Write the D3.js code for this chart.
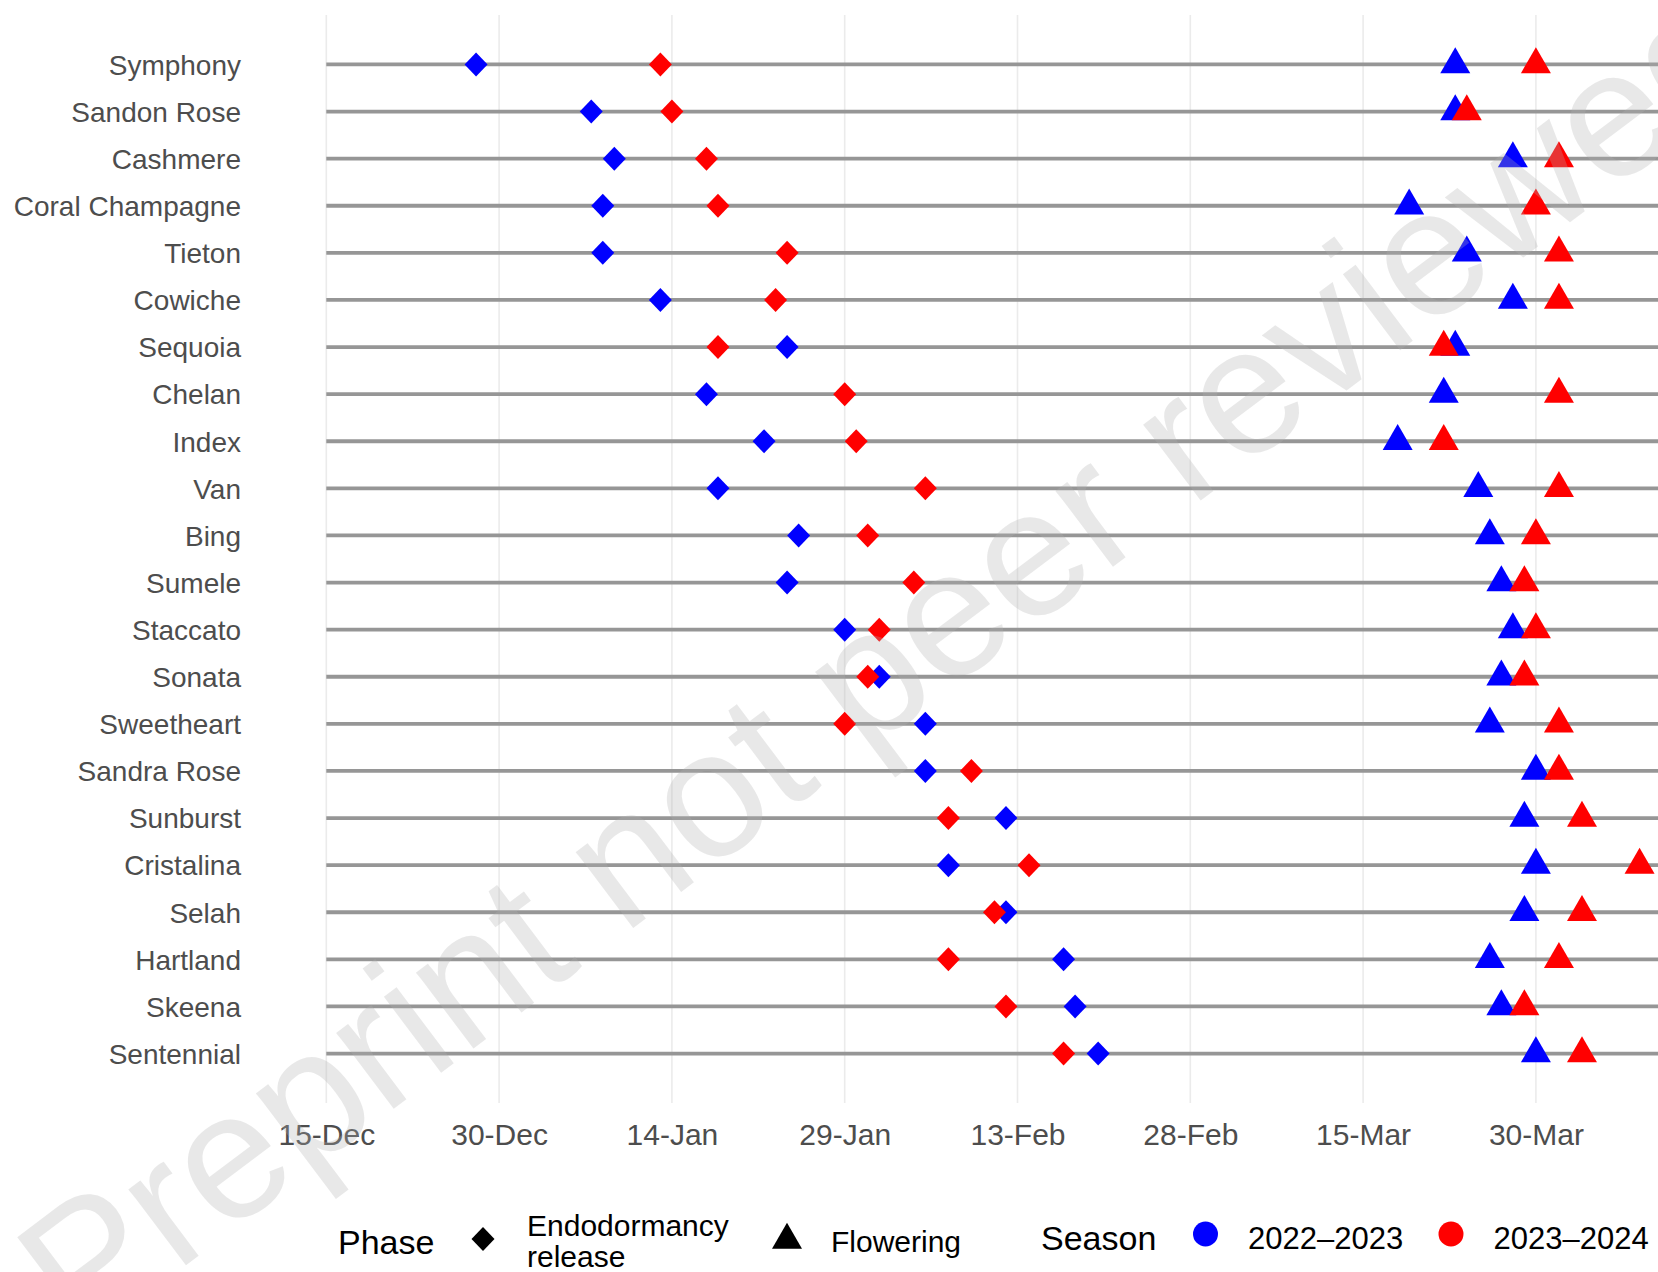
<!DOCTYPE html>
<html>
<head>
<meta charset="utf-8">
<title>Endodormancy release and flowering dates of sweet cherry cultivars</title>
<script src="https://cdn.jsdelivr.net/npm/d3@7"></script>
<style>
  html, body { margin: 0; padding: 0; background: #ffffff; }
  svg { display: block; }
</style>
</head>
<body>
<svg id="chart" width="1658" height="1272"></svg>
<script>
// ---- data -------------------------------------------------------------
const cultivars = [
  "Symphony", "Sandon Rose", "Cashmere", "Coral Champagne", "Tieton", "Cowiche",
  "Sequoia", "Chelan", "Index", "Van", "Bing", "Sumele", "Staccato", "Sonata",
  "Sweetheart", "Sandra Rose", "Sunburst", "Cristalina", "Selah", "Hartland",
  "Skeena", "Sentennial"
];

// Endodormancy release, season 2022–2023
const endoRelease2223 = [
  "28-Dec", "7-Jan", "9-Jan", "8-Jan", "8-Jan", "13-Jan",
  "24-Jan", "17-Jan", "22-Jan", "18-Jan", "25-Jan", "24-Jan", "29-Jan", "1-Feb",
  "5-Feb", "5-Feb", "12-Feb", "7-Feb", "12-Feb", "17-Feb",
  "18-Feb", "20-Feb"
];

// Endodormancy release, season 2023–2024
const endoRelease2324 = [
  "13-Jan", "14-Jan", "17-Jan", "18-Jan", "24-Jan", "23-Jan",
  "18-Jan", "29-Jan", "30-Jan", "5-Feb", "31-Jan", "4-Feb", "1-Feb", "31-Jan",
  "29-Jan", "9-Feb", "7-Feb", "14-Feb", "11-Feb", "7-Feb",
  "12-Feb", "17-Feb"
];

// Flowering, season 2022–2023
const flowering2223 = [
  "23-Mar", "23-Mar", "28-Mar", "19-Mar", "24-Mar", "28-Mar",
  "23-Mar", "22-Mar", "18-Mar", "25-Mar", "26-Mar", "27-Mar", "28-Mar", "27-Mar",
  "26-Mar", "30-Mar", "29-Mar", "30-Mar", "29-Mar", "26-Mar",
  "27-Mar", "30-Mar"
];

// Flowering, season 2023–2024
const flowering2324 = [
  "30-Mar", "24-Mar", "1-Apr", "30-Mar", "1-Apr", "1-Apr",
  "22-Mar", "1-Apr", "22-Mar", "1-Apr", "30-Mar", "29-Mar", "30-Mar", "29-Mar",
  "1-Apr", "1-Apr", "3-Apr", "8-Apr", "3-Apr", "1-Apr",
  "29-Mar", "3-Apr"
];

const tickLabels = ["15-Dec", "30-Dec", "14-Jan", "29-Jan", "13-Feb", "28-Feb", "15-Mar", "30-Mar"];
const axisLimits = ["15-Dec", "10-Apr"];

const seasons = ["2022–2023", "2023–2024"];
const seasonColors = ["#0000ff", "#ff0000"];
const phases = ["Endodormancy release", "Flowering"];

// ---- helpers ------------------------------------------------------------
// Both seasons share one dormancy-season calendar (Dec of year 1, Jan–Apr of year 2).
const parseDayMonth = d3.utcParse("%d-%b");
function seasonDate(label) {
  const d = parseDayMonth(label);
  const year = d.getUTCMonth() >= 8 ? 2022 : 2023;
  return new Date(Date.UTC(year, d.getUTCMonth(), d.getUTCDate()));
}

const FONT = "'Liberation Sans', Arial, Helvetica, sans-serif";
const W = 1658, H = 1272;
const panel = { left: 326.3, top: 15, bottom: 1103 };
const pxPerDay = 11.52;

const svg = d3.select("#chart");
svg.append("rect").attr("width", W).attr("height", H).attr("fill", "#ffffff");

// ---- scales -----------------------------------------------------------------
const xStart = seasonDate(axisLimits[0]);
const xEnd = seasonDate(axisLimits[1]);
const nDays = (xEnd - xStart) / 864e5;
const x = d3.scaleUtc()
  .domain([xStart, xEnd])
  .range([panel.left, panel.left + nDays * pxPerDay]);

const y = d3.scalePoint()
  .domain(cultivars)
  .range([panel.top, panel.bottom])
  .padding(1.05);

const color = d3.scaleOrdinal().domain(seasons).range(seasonColors);

// marker shapes: diamond for endodormancy release, triangle for flowering
const diamondPath = "M0,-12L11.5,0L0,12L-11.5,0Z";
const trianglePath = "M0,-17.3L15,8.7L-15,8.7Z";
const shape = d3.scaleOrdinal().domain(phases).range([diamondPath, trianglePath]);

// ---- grid --------------------------------------------------------------------
const tickDates = tickLabels.map(seasonDate);

svg.append("g").attr("class", "grid-x")
  .selectAll("line")
  .data(tickDates)
  .join("line")
  .attr("x1", d => x(d)).attr("x2", d => x(d))
  .attr("y1", panel.top).attr("y2", panel.bottom)
  .attr("stroke", "#ebebeb")
  .attr("stroke-width", 1.6);

// one horizontal guide per cultivar
svg.append("g").attr("class", "rows")
  .selectAll("line")
  .data(cultivars)
  .join("line")
  .attr("x1", x(xStart)).attr("x2", W)
  .attr("y1", d => y(d)).attr("y2", d => y(d))
  .attr("stroke", "#969696")
  .attr("stroke-width", 3.8);

// ---- axes --------------------------------------------------------------------
const xAxis = d3.axisBottom(x)
  .tickValues(tickDates)
  .tickFormat((d, i) => tickLabels[i])
  .tickSize(0);

const gx = svg.append("g")
  .attr("transform", `translate(0,${panel.bottom})`)
  .call(xAxis);
gx.select(".domain").remove();
gx.selectAll("text")
  .attr("y", 42).attr("dy", null)
  .attr("font-family", FONT)
  .attr("font-size", 30)
  .attr("fill", "#4d4d4d");

const yAxis = d3.axisLeft(y).tickSize(0).tickPadding(0);
const gy = svg.append("g")
  .attr("transform", "translate(241,0)")
  .call(yAxis);
gy.select(".domain").remove();
gy.selectAll("text")
  .attr("dy", "0.35em")
  .attr("font-family", FONT)
  .attr("font-size", 28)
  .attr("fill", "#4d4d4d");

// ---- points ------------------------------------------------------------------
const series = [
  { phase: phases[0], season: seasons[0], values: endoRelease2223 },
  { phase: phases[0], season: seasons[1], values: endoRelease2324 },
  { phase: phases[1], season: seasons[0], values: flowering2223 },
  { phase: phases[1], season: seasons[1], values: flowering2324 }
];

const points = series.flatMap(s =>
  s.values.map((v, i) => ({
    cultivar: cultivars[i],
    phase: s.phase,
    season: s.season,
    date: seasonDate(v)
  }))
);

svg.append("g").attr("class", "points")
  .selectAll("path")
  .data(points)
  .join("path")
  .attr("d", d => shape(d.phase))
  .attr("transform", d => `translate(${x(d.date)},${y(d.cultivar)})`)
  .attr("fill", d => color(d.season));

// ---- legend ------------------------------------------------------------------
const legend = svg.append("g").attr("class", "legend")
  .attr("font-family", FONT)
  .attr("fill", "#000000");

legend.append("text").attr("x", 338).attr("y", 1254)
  .attr("font-size", 34).text("Phase");

legend.append("path").attr("d", shape(phases[0]))
  .attr("transform", "translate(483,1239)").attr("fill", "#000000");
const endoWords = phases[0].split(" ");
legend.append("text").attr("x", 527).attr("y", 1236)
  .attr("font-size", 30).text(endoWords[0]);
legend.append("text").attr("x", 527).attr("y", 1267)
  .attr("font-size", 30).text(endoWords[1]);

legend.append("path").attr("d", shape(phases[1]))
  .attr("transform", "translate(787,1240)").attr("fill", "#000000");
legend.append("text").attr("x", 831).attr("y", 1252)
  .attr("font-size", 30).text(phases[1]);

legend.append("text").attr("x", 1041).attr("y", 1250)
  .attr("font-size", 34).text("Season");

const seasonKeyX = [1205.5, 1451];
seasons.forEach((s, i) => {
  legend.append("circle")
    .attr("cx", seasonKeyX[i]).attr("cy", 1234).attr("r", 12.5)
    .attr("fill", color(s));
  legend.append("text")
    .attr("x", seasonKeyX[i] + 42.5).attr("y", 1249)
    .attr("font-size", 31).text(s);
});

// ---- preprint watermark ------------------------------------------------------
svg.append("text")
  .attr("transform", "translate(80,1345) rotate(-37)")
  .attr("font-family", FONT)
  .attr("font-size", 180)
  .attr("fill", "rgb(176,176,176)")
  .attr("fill-opacity", 0.29)
  .text("Preprint not peer reviewed");
</script>
</body>
</html>
